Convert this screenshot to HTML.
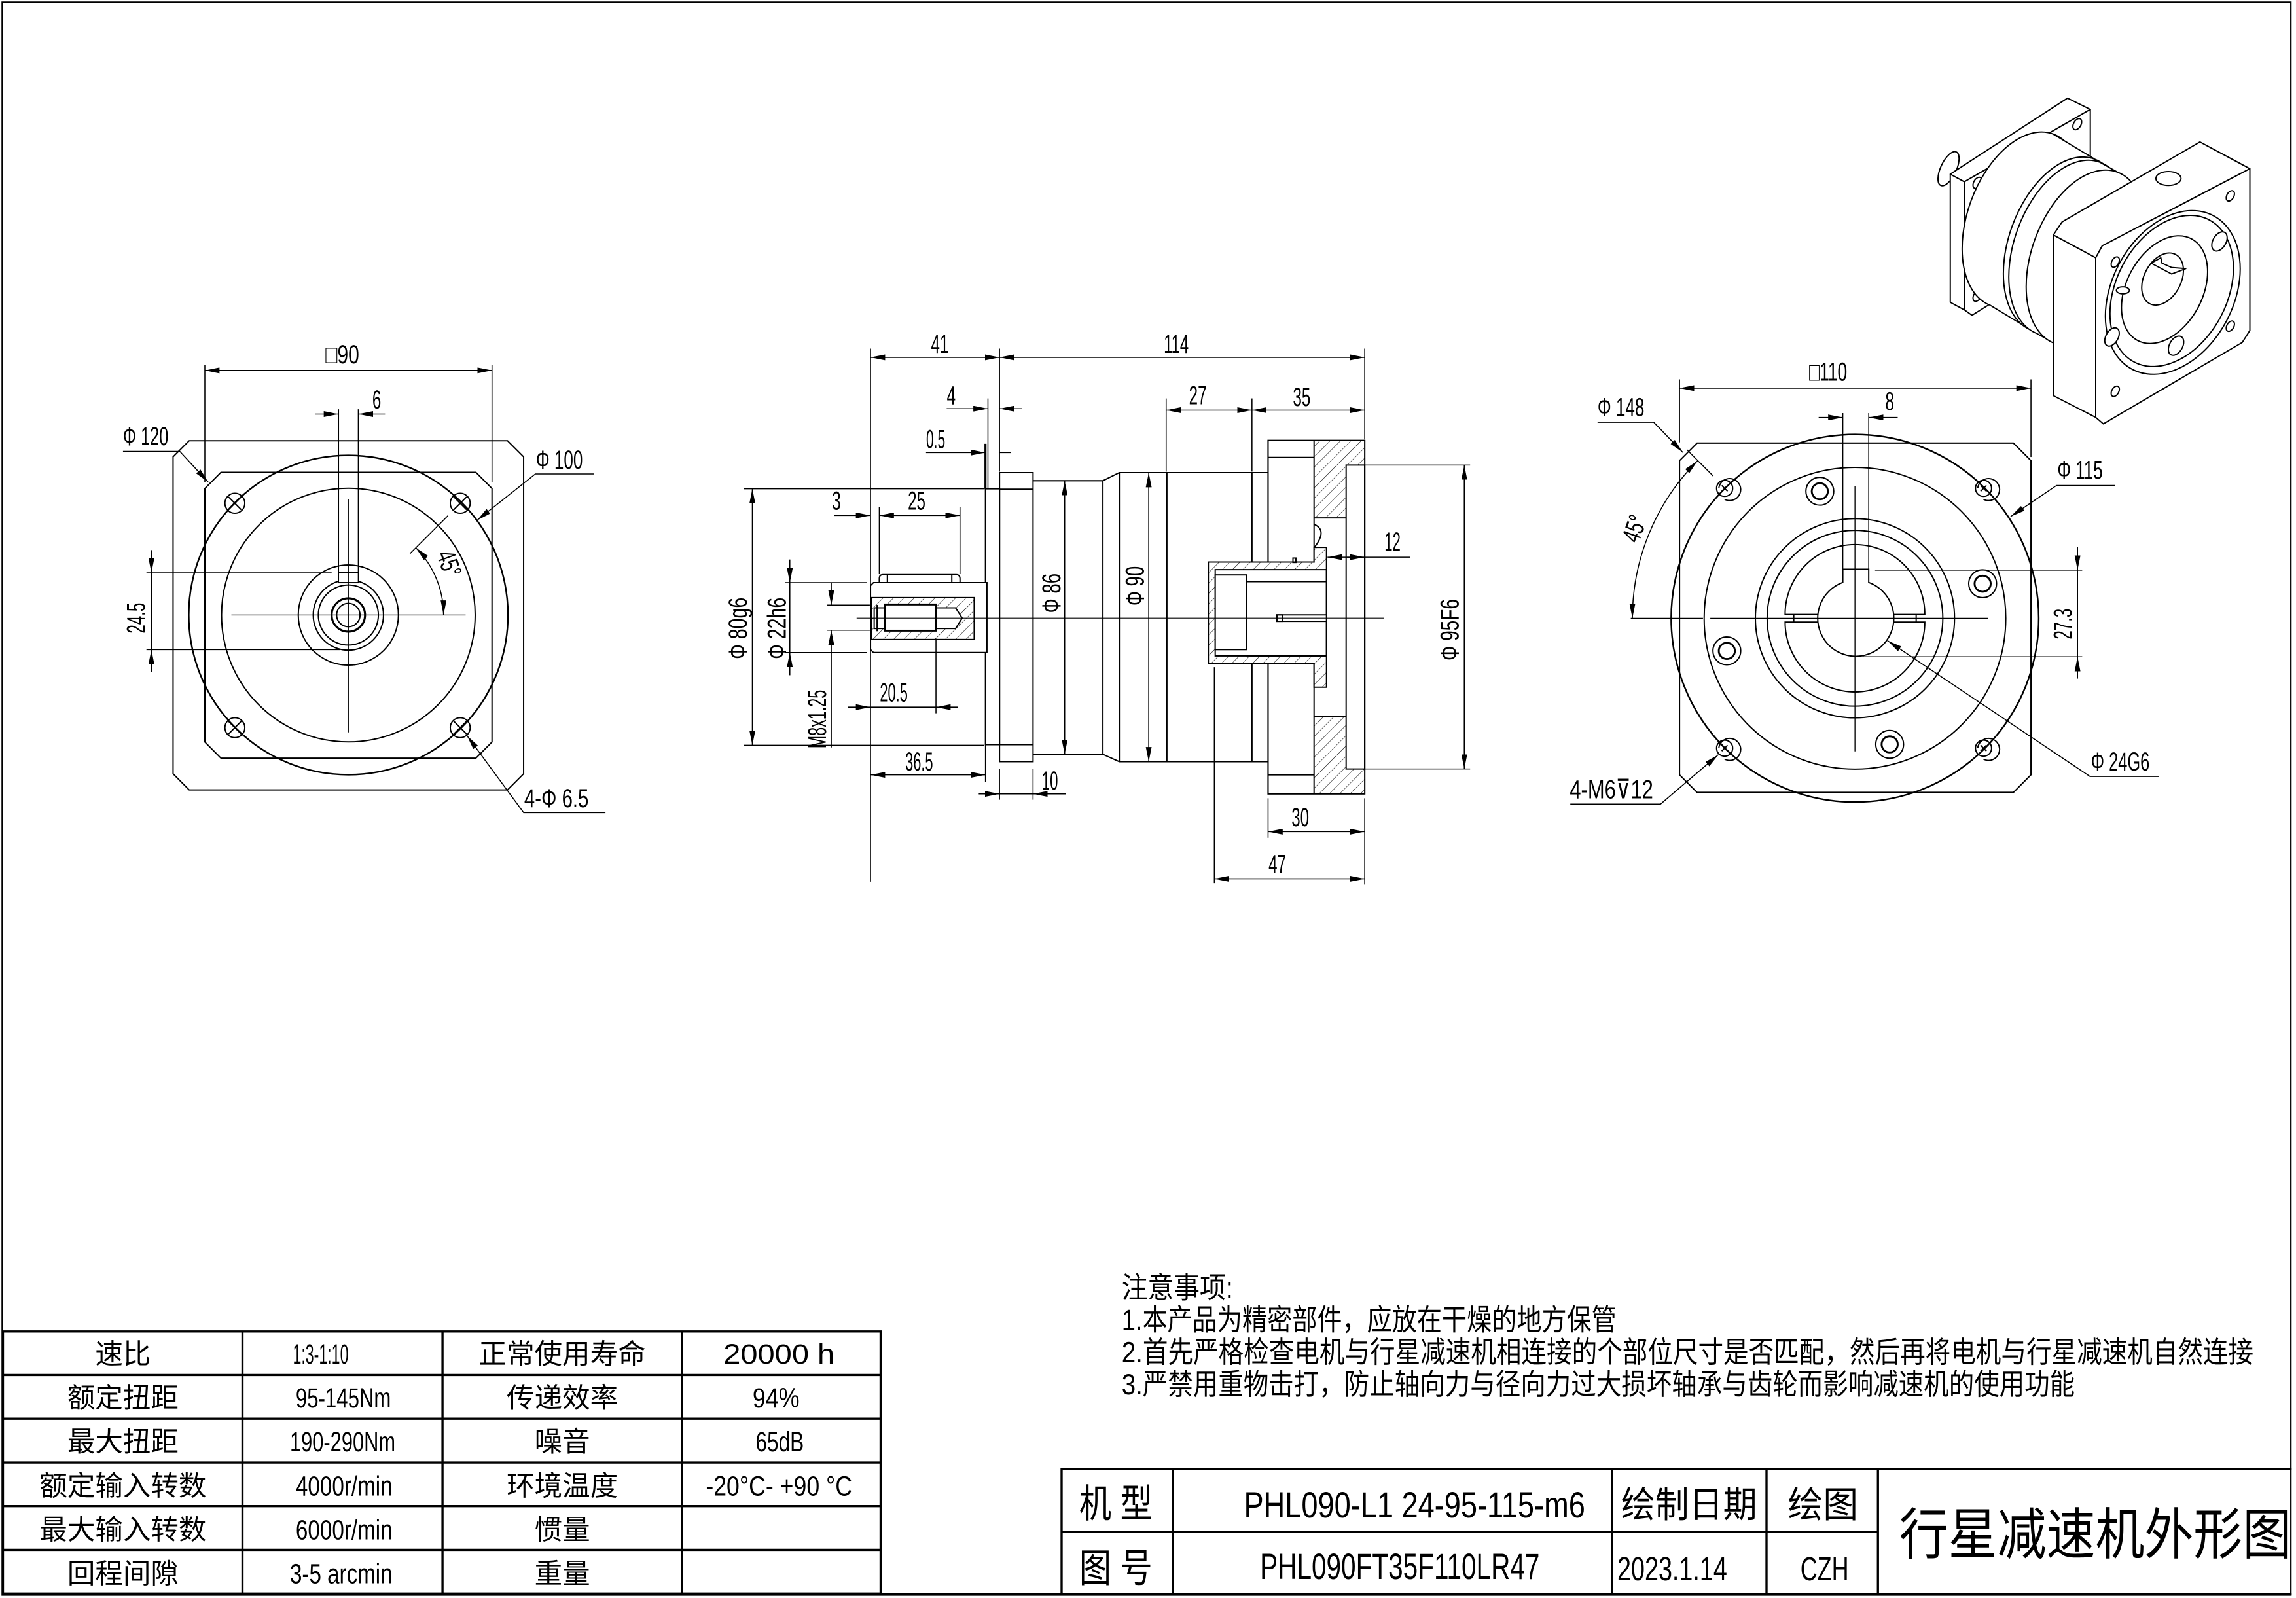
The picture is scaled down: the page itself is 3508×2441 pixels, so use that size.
<!DOCTYPE html>
<html><head><meta charset="utf-8"><style>
html,body{margin:0;padding:0;background:#fff}
svg{display:block}
text{font-family:"Liberation Sans Narrow","Liberation Sans","Noto Sans CJK SC",sans-serif;fill:#000;stroke:none}
.d{font-size:18px}
.c{font-family:"Liberation Sans","Noto Sans CJK SC",sans-serif}
</style></head><body>
<svg width="3508" height="2441" viewBox="0 0 1568 1091" preserveAspectRatio="none" xmlns="http://www.w3.org/2000/svg">
<defs>
<marker id="a" viewBox="0 0 10 4" refX="10" refY="2" markerWidth="10" markerHeight="4" markerUnits="userSpaceOnUse" orient="auto-start-reverse"><path d="M0,0L10,2L0,4z" fill="#000"/></marker>
<pattern id="h" patternUnits="userSpaceOnUse" width="5" height="5" patternTransform="rotate(45)"><rect width="5" height="5" fill="#fff"/><line x1="0" y1="0" x2="0" y2="5" stroke="#000" stroke-width="0.5"/></pattern>
</defs>
<rect x="0" y="0" width="1568" height="1091" fill="#fff"/>
<rect x="1.5" y="1.5" width="1563" height="1087.5" fill="none" stroke="#000" stroke-width="1"/>

<!-- ============ LEFT VIEW ============ -->
<g fill="none" stroke="#000" stroke-width="0.9">
<path d="M129.2,300.9 L346.6,300.9 L357.6,311.9 L357.6,528.3 L346.6,539.3 L129.2,539.3 L118.2,528.3 L118.2,311.9 Z"/>
<path d="M150.9,322.5 L325,322.5 L336,333.5 L336,506.6 L325,517.6 L150.9,517.6 L139.9,506.6 L139.9,333.5 Z"/>
<circle cx="237.9" cy="419.9" r="109" stroke-width="1.1"/>
<circle cx="237.9" cy="419.9" r="86.6"/>
<circle cx="237.9" cy="419.9" r="34.2"/>
<circle cx="237.9" cy="419.9" r="24"/>
<circle cx="237.9" cy="419.9" r="20.5"/>
<circle cx="237.9" cy="419.9" r="11.4" stroke-width="1.4"/>
<circle cx="237.9" cy="419.9" r="8"/>
<rect x="231.1" y="391" width="13.7" height="6.8" fill="#fff"/>
<line x1="231.1" y1="279.4" x2="231.1" y2="391"/>
<line x1="244.8" y1="279.4" x2="244.8" y2="391"/>
<g stroke-width="0.6">
<line x1="158" y1="419.9" x2="318" y2="419.9"/>
<line x1="237.9" y1="341" x2="237.9" y2="500"/>
</g>
<g>
<circle cx="160.4" cy="343.6" r="6.8"/><path d="M156,339.2l8.8,8.8M164.8,339.2l-8.8,8.8"/>
<circle cx="314.3" cy="343.6" r="6.8"/><path d="M309.9,339.2l8.8,8.8M318.7,339.2l-8.8,8.8"/>
<circle cx="160.4" cy="496.8" r="6.8"/><path d="M156,492.4l8.8,8.8M164.8,492.4l-8.8,8.8"/>
<circle cx="314.3" cy="496.8" r="6.8"/><path d="M309.9,492.4l8.8,8.8M318.7,492.4l-8.8,8.8"/>
</g>
</g>
<g fill="none" stroke="#000" stroke-width="0.7">
<line x1="139.9" y1="249" x2="139.9" y2="329"/>
<line x1="336" y1="249" x2="336" y2="329"/>
<line x1="139.9" y1="252.9" x2="336" y2="252.9" marker-start="url(#a)" marker-end="url(#a)"/>
<line x1="215" y1="282.7" x2="231.1" y2="282.7" marker-end="url(#a)"/>
<line x1="263" y1="282.7" x2="244.8" y2="282.7" marker-end="url(#a)"/>
<polyline points="84,308.2 122.8,308.2 142.2,329.2" marker-end="url(#a)"/>
<polyline points="405.5,323.6 365.6,323.6 325.7,355.3" marker-end="url(#a)"/>
<polyline points="413.5,554.8 357.6,554.8 318.9,502.2" marker-end="url(#a)"/>
<line x1="280" y1="378" x2="306" y2="352"/>
<path d="M283.9,373.9 A65,65 0 0 1 302.9,419.9" marker-start="url(#a)" marker-end="url(#a)"/>
<line x1="100" y1="391.1" x2="226.5" y2="391.1"/>
<line x1="100" y1="443.5" x2="232" y2="443.5"/>
<line x1="103.4" y1="375.6" x2="103.4" y2="391.1" marker-end="url(#a)"/>
<line x1="103.4" y1="458.6" x2="103.4" y2="443.5" marker-end="url(#a)"/>
<line x1="103.4" y1="391.1" x2="103.4" y2="443.5"/>
</g>
<text class="d" x="233.8" y="248" text-anchor="middle" textLength="23" lengthAdjust="spacingAndGlyphs">□90</text>
<text class="d" x="257.3" y="279" text-anchor="middle" textLength="6" lengthAdjust="spacingAndGlyphs">6</text>
<text class="d" x="84" y="304" textLength="31" lengthAdjust="spacingAndGlyphs">Φ 120</text>
<text class="d" x="366" y="320" textLength="32" lengthAdjust="spacingAndGlyphs">Φ 100</text>
<text class="d" x="358" y="551" textLength="44" lengthAdjust="spacingAndGlyphs">4-Φ 6.5</text>
<text class="d" transform="translate(301,387) rotate(70)" text-anchor="middle" textLength="18" lengthAdjust="spacingAndGlyphs">45°</text>
<text class="d" transform="translate(99,422) rotate(-90)" text-anchor="middle" textLength="21" lengthAdjust="spacingAndGlyphs">24.5</text>

<!-- ============ MIDDLE VIEW ============ -->
<g fill="none" stroke="#000" stroke-width="0.9">
<rect x="866" y="300.7" width="66" height="241.3" fill="#fff"/>
<path d="M897.4,300.7 H932 V317.5 H919.3 V353.6 H897.4 Z" fill="url(#h)" stroke="none"/>
<path d="M897.4,542 H932 V525 H919.3 V489 H897.4 Z" fill="url(#h)" stroke="none"/>
<rect x="866" y="300.7" width="66" height="241.3"/>
<line x1="897.4" y1="300.7" x2="897.4" y2="542"/>
<line x1="866" y1="312.3" x2="897.4" y2="312.3"/>
<line x1="866" y1="529" x2="897.4" y2="529"/>
<rect x="919.3" y="317.5" width="12.7" height="207.5"/>
<line x1="897.4" y1="353.6" x2="919.3" y2="353.6"/>
<line x1="897.4" y1="489" x2="919.3" y2="489"/>
<path d="M897.4,358 Q907,362 897.4,374"/>
<rect x="673" y="333.7" width="9.6" height="174.7"/>
<rect x="682.6" y="322.7" width="22.9" height="197.3"/>
<line x1="682.6" y1="334" x2="705.5" y2="334"/>
<line x1="682.6" y1="508.4" x2="705.5" y2="508.4"/>
<path d="M705.5,328.2 H753.2 L764.4,322.7 H866 M705.5,515 H753.2 L764.4,520 H866"/>
<line x1="753.2" y1="328.2" x2="753.2" y2="515"/>
<line x1="764.4" y1="322.7" x2="764.4" y2="520"/>
<line x1="796.9" y1="322.7" x2="796.9" y2="520"/>
<line x1="855" y1="322.7" x2="855" y2="520"/>
<path d="M825.2,383.7 H897.4 V373.7 H905.9 V469.2 H897.4 V453 H825.2 Z" fill="url(#h)"/>
<rect x="829.9" y="388.9" width="76" height="58.9" fill="#fff"/>
<rect x="829.9" y="392.5" width="21.4" height="51" fill="#fff"/>
<path d="M851.3,397.1 H905.9 M851.3,447.8 H905.9 M905.9,388.9 V419.8 H872 V424.2 H905.9 V447.8"/>
<rect x="872" y="419.8" width="4" height="4.4"/>
<rect x="883" y="381" width="2" height="3"/>
<path d="M596.5,397.8 H674 V445.5 H596.5 L594.5,443.5 V399.8 Z" fill="#fff"/>
<path d="M603,392.3 H653 Q655.6,392.3 655.6,395 V397.8 H600.5 V395 Q600.5,392.3 603,392.3 Z"/>
<line x1="606" y1="392.3" x2="606" y2="397.8"/><line x1="650" y1="392.3" x2="650" y2="397.8"/>
<rect x="595.3" y="408" width="70" height="28.6" fill="url(#h)"/>
<path d="M597,415 H652.6 L657.1,422 L652.6,429.1 H597 Z" fill="#fff"/>
<rect x="604.2" y="412.7" width="35" height="17.9" fill="#fff" stroke-width="1.3"/>
<line x1="599" y1="413" x2="599" y2="431"/>
</g>
<g fill="none" stroke="#000" stroke-width="0.5">
<line x1="585" y1="422" x2="945" y2="422"/>
</g>
<g fill="none" stroke="#000" stroke-width="0.7">
<line x1="594.5" y1="238" x2="594.5" y2="602"/>
<line x1="682.6" y1="238" x2="682.6" y2="322"/>
<line x1="932" y1="238" x2="932" y2="300"/>
<line x1="594.5" y1="244" x2="682.6" y2="244" marker-start="url(#a)" marker-end="url(#a)"/>
<line x1="682.6" y1="244" x2="932" y2="244" marker-start="url(#a)" marker-end="url(#a)"/>
<line x1="674.7" y1="272" x2="674.7" y2="333"/>
<line x1="646.5" y1="279" x2="674.7" y2="279" marker-end="url(#a)"/>
<line x1="698" y1="279" x2="682.6" y2="279" marker-end="url(#a)"/>
<line x1="632.4" y1="309" x2="673" y2="309" marker-end="url(#a)"/>
<line x1="690.4" y1="309" x2="682.6" y2="309"/>
<line x1="673" y1="303" x2="673" y2="334" stroke-width="1.4"/>
<line x1="796.4" y1="272" x2="796.4" y2="322"/>
<line x1="855" y1="272" x2="855" y2="322"/>
<line x1="796.4" y1="280" x2="855" y2="280" marker-start="url(#a)" marker-end="url(#a)"/>
<line x1="855" y1="280" x2="932" y2="280" marker-start="url(#a)" marker-end="url(#a)"/>
<line x1="600.5" y1="346" x2="600.5" y2="392"/>
<line x1="655.6" y1="346" x2="655.6" y2="392"/>
<line x1="569.7" y1="351.9" x2="594.5" y2="351.9" marker-end="url(#a)"/>
<line x1="600.5" y1="351.9" x2="655.6" y2="351.9" marker-start="url(#a)" marker-end="url(#a)"/>
<line x1="508" y1="333.7" x2="672" y2="333.7"/>
<line x1="508" y1="508.8" x2="672" y2="508.8"/>
<line x1="513.8" y1="333.7" x2="513.8" y2="508.8" marker-start="url(#a)" marker-end="url(#a)"/>
<line x1="536" y1="397.8" x2="592" y2="397.8"/>
<line x1="536" y1="445.5" x2="592" y2="445.5"/>
<line x1="539.4" y1="382" x2="539.4" y2="397.8" marker-end="url(#a)"/>
<line x1="539.4" y1="461" x2="539.4" y2="445.5" marker-end="url(#a)"/>
<line x1="539.4" y1="397.8" x2="539.4" y2="445.5"/>
<line x1="565" y1="413.1" x2="594" y2="413.1"/>
<line x1="565" y1="430.3" x2="594" y2="430.3"/>
<line x1="567.7" y1="397.8" x2="567.7" y2="413.1" marker-end="url(#a)"/>
<line x1="567.7" y1="510.3" x2="567.7" y2="430.3" marker-end="url(#a)"/>
<line x1="639.2" y1="436" x2="639.2" y2="487"/>
<line x1="578.9" y1="482.8" x2="594.5" y2="482.8" marker-end="url(#a)"/>
<line x1="654.3" y1="482.8" x2="639.2" y2="482.8" marker-end="url(#a)"/>
<line x1="594.5" y1="482.8" x2="639.2" y2="482.8"/>
<line x1="673" y1="508" x2="673" y2="534"/>
<line x1="594.5" y1="529" x2="673" y2="529" marker-start="url(#a)" marker-end="url(#a)"/>
<line x1="682.6" y1="525" x2="682.6" y2="546"/>
<line x1="705.5" y1="525" x2="705.5" y2="546"/>
<line x1="668.4" y1="542" x2="682.6" y2="542" marker-end="url(#a)"/>
<line x1="728" y1="542" x2="705.5" y2="542" marker-end="url(#a)"/>
<line x1="682.6" y1="542" x2="705.5" y2="542"/>
<line x1="727.1" y1="328.2" x2="727.1" y2="515" marker-start="url(#a)" marker-end="url(#a)"/>
<line x1="784.5" y1="322.7" x2="784.5" y2="520" marker-start="url(#a)" marker-end="url(#a)"/>
<line x1="963" y1="380.4" x2="906.6" y2="380.4" marker-end="url(#a)"/>
<line x1="920" y1="380.4" x2="932" y2="380.4" marker-end="url(#a)"/>
<line x1="932" y1="317.5" x2="1004" y2="317.5"/>
<line x1="932" y1="525" x2="1004" y2="525"/>
<line x1="1000" y1="317.5" x2="1000" y2="525" marker-start="url(#a)" marker-end="url(#a)"/>
<line x1="866" y1="545" x2="866" y2="572"/>
<line x1="932" y1="545" x2="932" y2="604"/>
<line x1="866" y1="567.8" x2="932" y2="567.8" marker-start="url(#a)" marker-end="url(#a)"/>
<line x1="829.3" y1="455.5" x2="829.3" y2="603"/>
<line x1="829.3" y1="600" x2="932" y2="600" marker-start="url(#a)" marker-end="url(#a)"/>
</g>
<text class="d" x="641.8" y="241" text-anchor="middle" textLength="12" lengthAdjust="spacingAndGlyphs">41</text>
<text class="d" x="803.3" y="241" text-anchor="middle" textLength="17" lengthAdjust="spacingAndGlyphs">114</text>
<text class="d" x="649.6" y="276" text-anchor="middle" textLength="6" lengthAdjust="spacingAndGlyphs">4</text>
<text class="d" x="639" y="306" text-anchor="middle" textLength="13" lengthAdjust="spacingAndGlyphs">0.5</text>
<text class="d" x="818" y="276" text-anchor="middle" textLength="12" lengthAdjust="spacingAndGlyphs">27</text>
<text class="d" x="889" y="277" text-anchor="middle" textLength="12" lengthAdjust="spacingAndGlyphs">35</text>
<text class="d" x="571.2" y="348" text-anchor="middle" textLength="6" lengthAdjust="spacingAndGlyphs">3</text>
<text class="d" x="626" y="348" text-anchor="middle" textLength="12" lengthAdjust="spacingAndGlyphs">25</text>
<text class="d" x="610.4" y="479" text-anchor="middle" textLength="19" lengthAdjust="spacingAndGlyphs">20.5</text>
<text class="d" x="627.7" y="526" text-anchor="middle" textLength="19" lengthAdjust="spacingAndGlyphs">36.5</text>
<text class="d" x="717" y="539" text-anchor="middle" textLength="11" lengthAdjust="spacingAndGlyphs">10</text>
<text class="d" x="951" y="376" text-anchor="middle" textLength="11" lengthAdjust="spacingAndGlyphs">12</text>
<text class="d" x="888" y="564" text-anchor="middle" textLength="12" lengthAdjust="spacingAndGlyphs">30</text>
<text class="d" x="872.3" y="596" text-anchor="middle" textLength="12" lengthAdjust="spacingAndGlyphs">47</text>
<text class="d" transform="translate(510,429) rotate(-90)" text-anchor="middle" textLength="42" lengthAdjust="spacingAndGlyphs">Φ 80g6</text>
<text class="d" transform="translate(536.5,429) rotate(-90)" text-anchor="middle" textLength="42" lengthAdjust="spacingAndGlyphs">Φ 22h6</text>
<text class="d" transform="translate(564,491) rotate(-90)" text-anchor="middle" textLength="40" lengthAdjust="spacingAndGlyphs">M8x1.25</text>
<text class="d" transform="translate(724,405) rotate(-90)" text-anchor="middle" textLength="27" lengthAdjust="spacingAndGlyphs">Φ 86</text>
<text class="d" transform="translate(781,400) rotate(-90)" text-anchor="middle" textLength="27" lengthAdjust="spacingAndGlyphs">Φ 90</text>
<text class="d" transform="translate(996,430) rotate(-90)" text-anchor="middle" textLength="42" lengthAdjust="spacingAndGlyphs">Φ 95F6</text>

<!-- ============ RIGHT VIEW ============ -->
<g fill="none" stroke="#000" stroke-width="0.9">
<path d="M1159,302.5 L1375,302.5 L1387,314.5 L1387,529 L1375,541 L1159,541 L1147,529 L1147,314.5 Z"/>
<circle cx="1266.8" cy="422.1" r="125.5" stroke-width="1.1"/>
<circle cx="1266.8" cy="422.1" r="103"/>
<circle cx="1266.8" cy="422.1" r="68"/>
<circle cx="1266.8" cy="422.1" r="60"/>
<path d="M1219.1,419.5 A47.7,47.7 0 0 1 1314.5,419.5 Z"/>
<path d="M1219.1,424.7 A47.7,47.7 0 0 0 1314.5,424.7 Z"/>
<line x1="1225" y1="419.5" x2="1225" y2="424.7"/><line x1="1308.6" y1="419.5" x2="1308.6" y2="424.7"/>
<path d="M1258.5,397.65 L1258.5,388.6 L1276.2,388.6 L1276.2,397.65 A26,26 0 1 1 1258.5,397.65 Z" fill="#fff"/>
<g>
<circle cx="1177.8" cy="333.4" r="5.5"/><path d="M1173.8,333.4A7.5,7.5 0 1 1 1177.8,340.9"/><path d="M1175.8,331.4l4,4M1179.8,331.4l-4,4"/>
<circle cx="1354.6" cy="333.4" r="5.5"/><path d="M1350.6,333.4A7.5,7.5 0 1 1 1354.6,340.9"/><path d="M1352.6,331.4l4,4M1356.6,331.4l-4,4"/>
<circle cx="1177.8" cy="510.8" r="5.5"/><path d="M1173.8,510.8A7.5,7.5 0 1 1 1177.8,518.3"/><path d="M1175.8,508.8l4,4M1179.8,508.8l-4,4"/>
<circle cx="1354.6" cy="510.8" r="5.5"/><path d="M1350.6,510.8A7.5,7.5 0 1 1 1354.6,518.3"/><path d="M1352.6,508.8l4,4M1356.6,508.8l-4,4"/>
</g>
<g>
<circle cx="1242.8" cy="335.4" r="9.5"/><circle cx="1242.8" cy="335.4" r="5.5" stroke-width="1.3"/>
<circle cx="1354" cy="398.5" r="9.5"/><circle cx="1354" cy="398.5" r="5.5" stroke-width="1.3"/>
<circle cx="1179.3" cy="444.4" r="9.5"/><circle cx="1179.3" cy="444.4" r="5.5" stroke-width="1.3"/>
<circle cx="1290.5" cy="508.2" r="9.5"/><circle cx="1290.5" cy="508.2" r="5.5" stroke-width="1.3"/>
</g>
</g>
<g fill="none" stroke="#000" stroke-width="0.6">
<line x1="1113.7" y1="422.1" x2="1163" y2="422.1"/>
<line x1="1168" y1="422.1" x2="1357.5" y2="422.1"/>
<line x1="1266.8" y1="331.8" x2="1266.8" y2="513"/>
</g>
<g fill="none" stroke="#000" stroke-width="0.7">
<line x1="1147" y1="259" x2="1147" y2="302"/>
<line x1="1387" y1="259" x2="1387" y2="312"/>
<line x1="1147" y1="265" x2="1387" y2="265" marker-start="url(#a)" marker-end="url(#a)"/>
<line x1="1258.5" y1="282" x2="1258.5" y2="388.6"/>
<line x1="1276.2" y1="282" x2="1276.2" y2="388.6"/>
<line x1="1242" y1="285" x2="1258.5" y2="285" marker-end="url(#a)"/>
<line x1="1296" y1="285" x2="1276.2" y2="285" marker-end="url(#a)"/>
<polyline points="1091,288.3 1129.4,288.3 1149.3,308.9" marker-end="url(#a)"/>
<polyline points="1444.4,331.4 1404.5,331.4 1373.1,352.7" marker-end="url(#a)"/>
<polyline points="1474.4,530.1 1427.3,530.1 1289,437.4" marker-end="url(#a)"/>
<polyline points="1072.4,549 1134,549 1173.6,515.2" marker-end="url(#a)"/>
<line x1="1152" y1="307" x2="1170" y2="325"/>
<path d="M1159.3,314.6 A152,152 0 0 0 1114.8,422.1" marker-start="url(#a)" marker-end="url(#a)"/>
<line x1="1280.5" y1="389.2" x2="1422" y2="389.2"/>
<line x1="1272" y1="448.4" x2="1422" y2="448.4"/>
<line x1="1418.8" y1="373.6" x2="1418.8" y2="389.2" marker-end="url(#a)"/>
<line x1="1418.8" y1="463.3" x2="1418.8" y2="448.4" marker-end="url(#a)"/>
<line x1="1418.8" y1="389.2" x2="1418.8" y2="448.4"/>
</g>
<text class="d" x="1248.5" y="260" text-anchor="middle" textLength="26" lengthAdjust="spacingAndGlyphs">□110</text>
<text class="d" x="1290.5" y="280" text-anchor="middle" textLength="6" lengthAdjust="spacingAndGlyphs">8</text>
<text class="d" x="1091" y="284" textLength="32" lengthAdjust="spacingAndGlyphs">Φ 148</text>
<text class="d" x="1405" y="327" textLength="31" lengthAdjust="spacingAndGlyphs">Φ 115</text>
<text class="d" x="1428" y="526" textLength="40" lengthAdjust="spacingAndGlyphs">Φ 24G6</text>
<text class="d" x="1072" y="545" textLength="57" lengthAdjust="spacingAndGlyphs">4-M6⊽12</text>
<text class="d" transform="translate(1122,363) rotate(-70)" text-anchor="middle" textLength="18" lengthAdjust="spacingAndGlyphs">45°</text>
<text class="d" transform="translate(1415,426) rotate(-90)" text-anchor="middle" textLength="21" lengthAdjust="spacingAndGlyphs">27.3</text>

<!-- ============ ISO VIEW ============ -->
<g transform="translate(1314.1,58.1) scale(0.14826)" stroke="#000" stroke-width="6" fill="#fff" stroke-linejoin="round">
<ellipse cx="112" cy="385" rx="36" ry="85" transform="rotate(25 112 385)"/>
<polygon points="120,410 185,445 185,1035 120,1000"/>
<polygon points="120,410 660,60 765,112 185,445"/>
<polygon points="185,445 765,112 765,720 220,1060 185,1035"/>
<ellipse cx="705" cy="180" rx="17" ry="28" transform="rotate(30 705 180)"/>
<ellipse cx="245" cy="450" rx="17" ry="28" transform="rotate(30 245 450)"/>
<ellipse cx="245" cy="970" rx="17" ry="28" transform="rotate(30 245 970)"/>
<ellipse cx="450" cy="620" rx="250" ry="420" transform="rotate(20 450 620)"/>
<polygon points="593.6,225.3 783.6,340 496,1130 306,1015" stroke="none"/>
<line x1="593.6" y1="225.3" x2="783.6" y2="340"/>
<line x1="306" y1="1015" x2="496" y2="1130"/>
<ellipse cx="640" cy="735" rx="250" ry="420" transform="rotate(20 640 735)"/>
<ellipse cx="665" cy="750" rx="250" ry="420" transform="rotate(20 665 750)"/>
<polygon points="808.6,355 888.6,400 601,1190 521,1145" stroke="none"/>
<line x1="808.6" y1="355" x2="888.6" y2="400"/>
<line x1="521" y1="1145" x2="601" y2="1190"/>
<ellipse cx="745" cy="795" rx="250" ry="420" transform="rotate(20 745 795)"/>
<polygon points="595,690 790,795 790,1530 595,1430"/>
<polygon points="595,690 635,630 1270,262 1500,385 820,740 790,795"/>
<polygon points="790,795 820,740 1500,385 1500,1130 1465,1185 825,1560 790,1530"/>
<ellipse cx="1125" cy="430" rx="58" ry="32"/>
<ellipse cx="1145" cy="955" rx="280" ry="400" transform="rotate(28 1145 955)"/>
<ellipse cx="1140" cy="948" rx="255" ry="370" transform="rotate(28 1140 948)"/>
<ellipse cx="1107" cy="942" rx="175" ry="265" transform="rotate(28 1107 942)"/>
<ellipse cx="1098" cy="893" rx="85" ry="128" transform="rotate(28 1098 893)"/>
<path d="M1045,820 L1090,795 L1095,820 L1140,840 L1205,845 L1140,870 Z" fill="none"/>
<ellipse cx="1410" cy="510" rx="16" ry="26" transform="rotate(30 1410 510)"/>
<ellipse cx="880" cy="815" rx="16" ry="26" transform="rotate(30 880 815)"/>
<ellipse cx="1410" cy="1110" rx="16" ry="26" transform="rotate(30 1410 1110)"/>
<ellipse cx="880" cy="1410" rx="16" ry="26" transform="rotate(30 880 1410)"/>
<ellipse cx="1360" cy="720" rx="30" ry="48" transform="rotate(30 1360 720)"/>
<ellipse cx="1160" cy="1200" rx="30" ry="48" transform="rotate(30 1160 1200)"/>
<ellipse cx="865" cy="1160" rx="28" ry="46" transform="rotate(30 865 1160)"/>
<ellipse cx="915" cy="945" rx="30" ry="16"/>
</g>

<!-- ============ NOTES ============ -->
<g font-size="20">
<text class="c" x="766" y="886" font-size="20" textLength="76" lengthAdjust="spacingAndGlyphs">注意事项:</text>
<text class="c" x="766" y="908" font-size="20" textLength="338" lengthAdjust="spacingAndGlyphs">1.本产品为精密部件，应放在干燥的地方保管</text>
<text class="c" x="766" y="930" font-size="20" textLength="773" lengthAdjust="spacingAndGlyphs">2.首先严格检查电机与行星减速机相连接的个部位尺寸是否匹配，然后再将电机与行星减速机自然连接</text>
<text class="c" x="766" y="952" font-size="20" textLength="651" lengthAdjust="spacingAndGlyphs">3.严禁用重物击打，防止轴向力与径向力过大损坏轴承与齿轮而影响减速机的使用功能</text>
</g>

<!-- ============ PARAM TABLE ============ -->
<g fill="none" stroke="#000" stroke-width="1.5">
<rect x="2" y="909" width="599.4" height="179"/>
<path d="M2,938.8H601.4M2,968.6H601.4M2,998.5H601.4M2,1028.3H601.4M2,1058.1H601.4"/>
<path d="M165.6,909V1088M302.2,909V1088M465.8,909V1088"/>
</g>
<g font-size="19" text-anchor="middle">
<text class="c" x="84" y="931">速比</text>
<text class="c" x="84" y="961">额定扭距</text>
<text class="c" x="84" y="991">最大扭距</text>
<text class="c" x="84" y="1021">额定输入转数</text>
<text class="c" x="84" y="1051">最大输入转数</text>
<text class="c" x="84" y="1081">回程间隙</text>
<text class="c" x="384" y="931">正常使用寿命</text>
<text class="c" x="384" y="961">传递效率</text>
<text class="c" x="384" y="991">噪音</text>
<text class="c" x="384" y="1021">环境温度</text>
<text class="c" x="384" y="1051">惯量</text>
<text class="c" x="384" y="1081">重量</text>
<text x="219" y="931" textLength="38" lengthAdjust="spacingAndGlyphs">1:3-1:10</text>
<text x="234.5" y="961" textLength="65" lengthAdjust="spacingAndGlyphs">95-145Nm</text>
<text x="234" y="991" textLength="72" lengthAdjust="spacingAndGlyphs">190-290Nm</text>
<text x="235" y="1021" textLength="66" lengthAdjust="spacingAndGlyphs">4000r/min</text>
<text x="235" y="1051" textLength="66" lengthAdjust="spacingAndGlyphs">6000r/min</text>
<text x="233" y="1081" textLength="70" lengthAdjust="spacingAndGlyphs">3-5 arcmin</text>
<text x="532" y="931" textLength="76" lengthAdjust="spacingAndGlyphs">20000 h</text>
<text x="530" y="961" textLength="32" lengthAdjust="spacingAndGlyphs">94%</text>
<text x="532.5" y="991" textLength="33" lengthAdjust="spacingAndGlyphs">65dB</text>
<text x="532" y="1021" textLength="100" lengthAdjust="spacingAndGlyphs">-20°C- +90 °C</text>
</g>

<!-- ============ TITLE BLOCK ============ -->
<g fill="none" stroke="#000" stroke-width="1.5">
<path d="M725,1088V1003H1565"/>
<path d="M725,1046H1282.5"/>
<path d="M801,1003V1088M1101,1003V1088M1206.4,1003V1088M1282.5,1003V1088"/>
<path d="M2,1088.5H1565"/>
</g>
<g text-anchor="middle">
<text class="c" x="762" y="1036" font-size="27" textLength="50" lengthAdjust="spacingAndGlyphs">机 型</text>
<text class="c" x="762" y="1080" font-size="27" textLength="50" lengthAdjust="spacingAndGlyphs">图 号</text>
<text x="966" y="1036" font-size="25" textLength="233" lengthAdjust="spacingAndGlyphs">PHL090-L1 24-95-115-m6</text>
<text x="956" y="1078" font-size="25" textLength="191" lengthAdjust="spacingAndGlyphs">PHL090FT35F110LR47</text>
<text class="c" x="1153.5" y="1036" font-size="25" textLength="93" lengthAdjust="spacingAndGlyphs">绘制日期</text>
<text class="c" x="1245" y="1036" font-size="25" textLength="48" lengthAdjust="spacingAndGlyphs">绘图</text>
<text x="1142" y="1079" font-size="23" textLength="75" lengthAdjust="spacingAndGlyphs">2023.1.14</text>
<text x="1246" y="1079" font-size="23" textLength="33" lengthAdjust="spacingAndGlyphs">CZH</text>
<text class="c" x="1431" y="1061" font-size="38" textLength="268" lengthAdjust="spacingAndGlyphs">行星减速机外形图</text>
</g>
</svg>
</body></html>
